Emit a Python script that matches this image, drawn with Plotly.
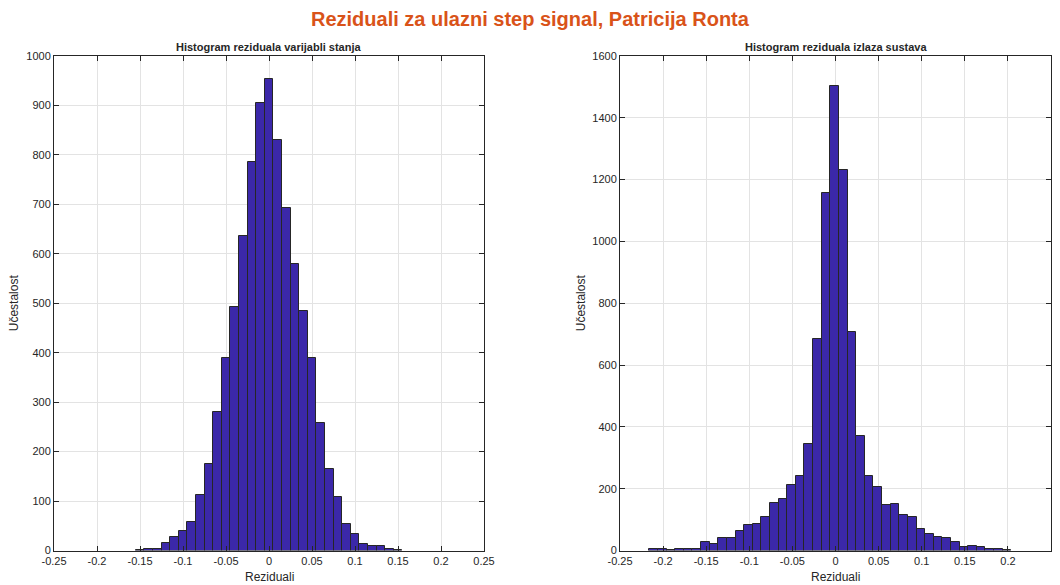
import plotly.graph_objects as go

# ---- data ----
left_bin_start = -0.155
left_bin_width = 0.01
left_counts = [2, 3, 3, 15, 28, 40, 57, 113, 175, 280, 389, 492, 636, 786, 904,
               954, 831, 692, 580, 484, 390, 257, 165, 109, 53, 34, 14, 9, 9, 3, 2]

right_bin_start = -0.216
right_bin_width = 0.01
right_counts = [5, 5, 2, 4, 4, 6, 26, 21, 42, 42, 62, 83, 87, 110, 155, 167, 212,
                240, 346, 683, 1156, 1503, 1232, 708, 371, 240, 205, 148, 150, 114,
                108, 68, 52, 43, 39, 29, 12, 13, 12, 6, 4, 2]

x_ticks = [-0.25, -0.2, -0.15, -0.1, -0.05, 0, 0.05, 0.1, 0.15, 0.2, 0.25]
x_tick_text = ["-0.25", "-0.2", "-0.15", "-0.1", "-0.05", "0", "0.05", "0.1", "0.15", "0.2", "0.25"]
left_y_ticks = list(range(0, 1001, 100))
right_y_ticks = list(range(0, 1601, 200))

main_title = "Reziduali za ulazni step signal, Patricija Ronta"
left_title = "Histogram reziduala varijabli stanja"
right_title = "Histogram reziduala izlaza sustava"
x_label = "Reziduali"
y_label = "Učestalost"

# ---- styling ----
W, H = 1060, 585
bar_color = "#3B28A9"
edge_color = "#262626"
text_color = "#262626"
grid_color = "#E3E3E3"
font_family = "Liberation Sans, Arial, Helvetica, sans-serif"

def centers(start, width, n):
    return [start + width * (i + 0.5) for i in range(n)]

fig = go.Figure()
fig.add_trace(go.Bar(
    x=centers(left_bin_start, left_bin_width, len(left_counts)),
    y=left_counts, width=left_bin_width,
    marker=dict(color=bar_color, line=dict(color=edge_color, width=1)),
    xaxis="x", yaxis="y", showlegend=False, hoverinfo="x+y"))
fig.add_trace(go.Bar(
    x=centers(right_bin_start, right_bin_width, len(right_counts)),
    y=right_counts, width=right_bin_width,
    marker=dict(color=bar_color, line=dict(color=edge_color, width=1)),
    xaxis="x2", yaxis="y2", showlegend=False, hoverinfo="x+y"))

# pixel geometry
L1, R1 = 54, 484
L2, R2 = 620, 1051
TOP, BOT = 56, 550.5
yd = [(H - BOT) / H, (H - TOP) / H]

common_x = dict(range=[-0.25, 0.25], tickvals=x_ticks, ticktext=x_tick_text,
                showgrid=True, gridcolor=grid_color, gridwidth=1,
                showline=True, linecolor=edge_color, linewidth=1, mirror="ticks",
                ticks="inside", ticklen=5, tickcolor=edge_color,
                tickfont=dict(size=11, color=text_color, family=font_family),
                zeroline=False, fixedrange=True, automargin=False)
common_y = dict(showgrid=True, gridcolor=grid_color, gridwidth=1,
                showline=True, linecolor=edge_color, linewidth=1, mirror="ticks",
                ticks="inside", ticklen=5, tickcolor=edge_color,
                tickfont=dict(size=11, color=text_color, family=font_family),
                zeroline=False, fixedrange=True, automargin=False)

fig.update_layout(
    width=W, height=H,
    margin=dict(l=0, r=0, t=0, b=0, autoexpand=False),
    paper_bgcolor="white", plot_bgcolor="white",
    bargap=0, barmode="overlay",
    font=dict(family=font_family, color=text_color),
    xaxis=dict(domain=[L1 / W, R1 / W], anchor="y", **common_x),
    yaxis=dict(domain=yd, anchor="x", range=[0, 1000], tickvals=left_y_ticks, **common_y),
    xaxis2=dict(domain=[L2 / W, R2 / W], anchor="y2", **common_x),
    yaxis2=dict(domain=yd, anchor="x2", range=[0, 1600], tickvals=right_y_ticks, **common_y),
)

def ann(text, xpx, ypx, size, bold=False, color=text_color, angle=0):
    fig.add_annotation(
        text=f"<b>{text}</b>" if bold else text,
        x=xpx / W, y=1 - ypx / H, xref="paper", yref="paper",
        xanchor="center", yanchor="middle", showarrow=False, textangle=angle,
        font=dict(size=size, color=color, family=font_family))

ann(main_title, 530, 19, 20, bold=True, color="#D95319")
ann(left_title, (L1 + R1) / 2, 47, 11, bold=True)
ann(right_title, (L2 + R2) / 2, 47, 11, bold=True)
ann(x_label, (L1 + R1) / 2, 577, 12)
ann(x_label, (L2 + R2) / 2, 577, 12)
ann(y_label, 14, (TOP + BOT) / 2, 12, angle=-90)
ann(y_label, 581, (TOP + BOT) / 2, 12, angle=-90)

fig.write_html("out.html",
               config={"displayModeBar": False},
               post_script="document.body.style.margin='0';document.body.style.overflow='hidden';")
